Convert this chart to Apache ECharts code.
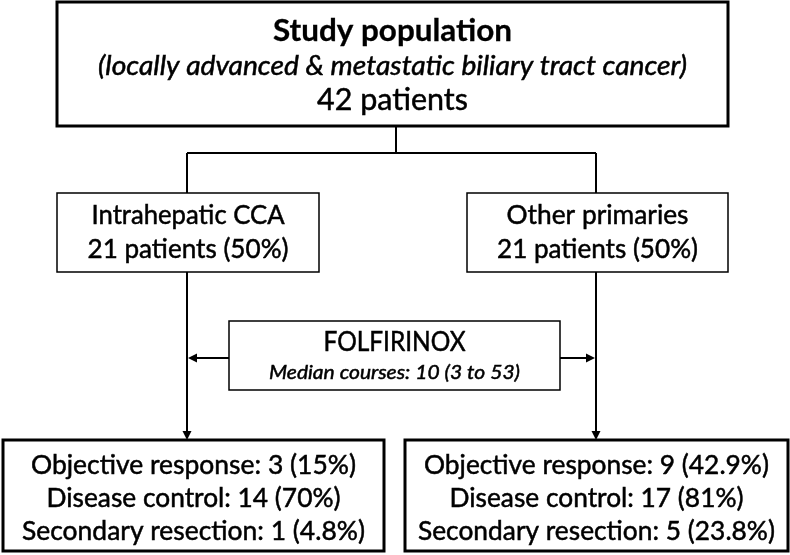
<!DOCTYPE html>
<html><head><meta charset="utf-8">
<script src="https://cdn.jsdelivr.net/npm/echarts@6/dist/echarts.min.js"></script>
<style>html,body{margin:0;padding:0;background:#fff}#c{width:790px;height:555px}</style>
</head><body><div id="c"></div>
<script>
// ---- data ----
const studyTitle = 'Study population';
const studySubtitle = '(locally advanced & metastatic biliary tract cancer)';
const totalPatients = 42;
const groupNames = ['Intrahepatic CCA', 'Other primaries'];
const groupPatients = [21, 21];
const groupPercent = ['50%', '50%'];
const treatmentName = 'FOLFIRINOX';
const medianCourses = 10;
const coursesRange = [3, 53];
const objectiveResponse = [3, 9];
const objectiveResponsePct = ['15%', '42.9%'];
const diseaseControl = [14, 17];
const diseaseControlPct = ['70%', '81%'];
const secondaryResection = [1, 5];
const secondaryResectionPct = ['4.8%', '23.8%'];

// ---- layout (positions / sizes / styles) ----
const FONT = 'Lato, "Open Sans", sans-serif';
// w = target rendered width in px (emulates the narrower original typeface)
function line(text, y, size, w, weight, style) {
  return { text: text, y: y, size: size, w: w, weight: weight || 'normal', style: style || 'normal' };
}
const boxes = [
  { x0: 57, y0: 2, x1: 728, y1: 126, lw: 3, lines: [
    line(studyTitle, 31, 31, 239, 'bold'),
    line(studySubtitle, 66, 26.5, 589, 'normal', 'italic'),
    line(totalPatients + ' patients', 100, 30, 151)
  ]},
  { x0: 57, y0: 193, x1: 319, y1: 272, lw: 1.5, lines: [
    line(groupNames[0], 215, 26.5, 193),
    line(groupPatients[0] + ' patients (' + groupPercent[0] + ')', 249, 26.5, 201)
  ]},
  { x0: 467, y0: 193, x1: 728, y1: 272, lw: 1.5, lines: [
    line(groupNames[1], 215, 26.5, 182),
    line(groupPatients[1] + ' patients (' + groupPercent[1] + ')', 249, 26.5, 201)
  ]},
  { x0: 229, y0: 321, x1: 560, y1: 390, lw: 1.5, lines: [
    line(treatmentName, 343, 26, 142),
    line('Median courses: ' + medianCourses + ' (' + coursesRange[0] + ' to ' + coursesRange[1] + ')', 373, 20, 251, 'normal', 'italic')
  ]},
  { x0: 3, y0: 440, x1: 384, y1: 551, lw: 3, lines: [
    line('Objective response: ' + objectiveResponse[0] + ' (' + objectiveResponsePct[0] + ')', 465, 26.5, 325),
    line('Disease control: ' + diseaseControl[0] + ' (' + diseaseControlPct[0] + ')', 498, 26.5, 294),
    line('Secondary resection: ' + secondaryResection[0] + ' (' + secondaryResectionPct[0] + ')', 531, 26.5, 343)
  ]},
  { x0: 405, y0: 440, x1: 788, y1: 551, lw: 3, lines: [
    line('Objective response: ' + objectiveResponse[1] + ' (' + objectiveResponsePct[1] + ')', 465, 26.5, 345),
    line('Disease control: ' + diseaseControl[1] + ' (' + diseaseControlPct[1] + ')', 498, 26.5, 294),
    line('Secondary resection: ' + secondaryResection[1] + ' (' + secondaryResectionPct[1] + ')', 531, 26.5, 357)
  ]}
];
const connectors = [
  { pts: [[396, 126], [396, 153]] },
  { pts: [[187, 153], [596, 153]] },
  { pts: [[187, 153], [187, 193]] },
  { pts: [[596, 153], [596, 193]] },
  { pts: [[187, 272], [187, 440]], arrow: 'down' },
  { pts: [[596, 272], [596, 440]], arrow: 'down' },
  { pts: [[229, 358], [188, 358]], arrow: 'left' },
  { pts: [[560, 358], [595, 358]], arrow: 'right' }
];

const measureCtx = document.createElement('canvas').getContext('2d');
function fontOf(ln) { return ln.style + ' ' + ln.weight + ' ' + ln.size + 'px ' + FONT; }
function scaleFor(ln) {
  measureCtx.font = fontOf(ln);
  const m = measureCtx.measureText(ln.text).width;
  if (!m || !ln.w) return 1;
  return Math.max(0.75, Math.min(1.25, ln.w / m));
}

const items = [];
connectors.forEach(function (c, i) { items.push({ kind: 'conn', i: i }); });
boxes.forEach(function (b, i) { items.push({ kind: 'box', i: i }); });

const chart = echarts.init(document.getElementById('c'), null, { renderer: 'canvas' });

function renderItem(params, api) {
  const it = items[params.dataIndex];
  const P = function (x, y) { return api.coord([x, y]); };
  if (it.kind === 'conn') {
    const c = connectors[it.i];
    const pts = c.pts.map(function (p) { return P(p[0], p[1]); });
    const children = [];
    let drawPts = pts.slice();
    if (c.arrow) {
      const tip = pts[pts.length - 1];
      const L = 9, W = 4.5;
      let tri;
      if (c.arrow === 'down') {
        tri = [[tip[0], tip[1]], [tip[0] - W, tip[1] - L], [tip[0] + W, tip[1] - L]];
        drawPts[drawPts.length - 1] = [tip[0], tip[1] - L + 1];
      } else if (c.arrow === 'left') {
        tri = [[tip[0], tip[1]], [tip[0] + L, tip[1] - W], [tip[0] + L, tip[1] + W]];
        drawPts[drawPts.length - 1] = [tip[0] + L - 1, tip[1]];
      } else {
        tri = [[tip[0], tip[1]], [tip[0] - L, tip[1] - W], [tip[0] - L, tip[1] + W]];
        drawPts[drawPts.length - 1] = [tip[0] - L + 1, tip[1]];
      }
      children.push({ type: 'polygon', shape: { points: tri }, style: { fill: '#000' } });
    }
    children.unshift({ type: 'polyline', shape: { points: drawPts }, style: { stroke: '#000', lineWidth: 2, fill: null } });
    return { type: 'group', children: children };
  }
  const b = boxes[it.i];
  const a = P(b.x0, b.y0), z = P(b.x1, b.y1);
  const cx = (a[0] + z[0]) / 2;
  const children = [{
    type: 'rect',
    shape: { x: a[0], y: a[1], width: z[0] - a[0], height: z[1] - a[1] },
    style: { fill: '#fff', stroke: '#000', lineWidth: b.lw }
  }];
  b.lines.forEach(function (ln) {
    const p = P(0, ln.y);
    children.push({
      type: 'text',
      x: cx, y: p[1], scaleX: scaleFor(ln), scaleY: 1,
      style: {
        text: ln.text, x: 0, y: 0,
        textAlign: 'center', textVerticalAlign: 'middle',
        fill: '#000',
        stroke: '#000', lineWidth: ln.weight === 'bold' ? 0.3 : 0.5,
        font: fontOf(ln)
      }
    });
  });
  return { type: 'group', children: children };
}

chart.setOption({
  animation: false,
  backgroundColor: '#fff',
  grid: { left: 0, right: 0, top: 0, bottom: 0 },
  xAxis: { type: 'value', min: 0, max: 790, show: false },
  yAxis: { type: 'value', min: 0, max: 555, inverse: true, show: false },
  series: [{
    type: 'custom',
    coordinateSystem: 'cartesian2d',
    clip: false,
    renderItem: renderItem,
    data: items.map(function (it, i) { return [i, 0]; })
  }]
});
</script>
</body></html>
